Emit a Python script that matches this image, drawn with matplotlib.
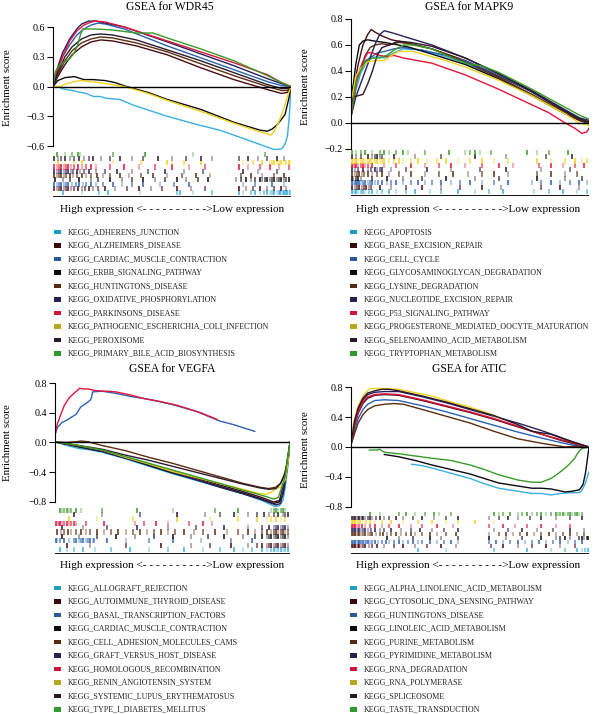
import matplotlib
matplotlib.use("Agg")
import matplotlib.pyplot as plt
from matplotlib.patches import Rectangle

plt.rcParams['font.family'] = ['Liberation Serif', 'DejaVu Serif']

W, H = 598, 714

# ---------------- data ----------------
wdr45_sets = ["KEGG_ADHERENS_JUNCTION", "KEGG_ALZHEIMERS_DISEASE", "KEGG_CARDIAC_MUSCLE_CONTRACTION",
              "KEGG_ERBB_SIGNALING_PATHWAY", "KEGG_HUNTINGTONS_DISEASE", "KEGG_OXIDATIVE_PHOSPHORYLATION",
              "KEGG_PARKINSONS_DISEASE", "KEGG_PATHOGENIC_ESCHERICHIA_COLI_INFECTION", "KEGG_PEROXISOME",
              "KEGG_PRIMARY_BILE_ACID_BIOSYNTHESIS"]
wdr45_x = [
    [3.5, 8, 14, 17, 19.5, 23, 28, 34, 48, 60, 70, 76, 83, 90, 93, 96, 97.5, 98.5, 99.3, 100],
    [0, 2, 5, 8, 12, 16, 20, 25, 35, 48, 62, 76, 90, 96, 98.5, 100],
    [0, 1.5, 4, 7, 10, 13, 16, 19, 22, 30, 48, 62, 76, 90, 96, 100],
    [0, 2, 5, 9, 13, 17, 22, 26, 31, 40, 48, 62, 76, 87, 90, 92, 94, 96, 97.5, 99, 100],
    [0, 2, 5, 8, 12, 16, 20, 25, 35, 48, 62, 76, 90, 96, 98.5, 100],
    [0, 1.5, 4, 7, 10, 12, 15, 18, 22, 30, 48, 62, 76, 90, 96, 100],
    [0, 1.5, 4, 7, 10, 13, 16, 18, 22, 30, 48, 62, 76, 90, 96, 100],
    [0, 3, 6, 9, 12, 16, 22, 30, 40, 48, 62, 76, 86, 89, 91.5, 93, 95, 97, 98.5, 100],
    [0, 2, 5, 8, 12, 16, 20, 25, 35, 48, 62, 76, 90, 96, 98.5, 100],
    [0, 1, 2.5, 5, 7, 9, 10.5, 11.5, 12.5, 18, 25, 35, 42, 48, 62, 76, 90, 96, 100],
]
wdr45_y = [
    [-0.02, -0.04, -0.07, -0.1, -0.1, -0.12, -0.13, -0.19, -0.3, -0.38, -0.44, -0.49, -0.55, -0.61, -0.635, -0.63, -0.58, -0.5, -0.3, 0.0],
    [0, 0.1, 0.22, 0.32, 0.4, 0.45, 0.47, 0.46, 0.41, 0.32, 0.19, 0.07, -0.03, -0.07, -0.06, 0],
    [0, 0.15, 0.3, 0.42, 0.52, 0.58, 0.62, 0.64, 0.63, 0.58, 0.41, 0.29, 0.17, 0.05, 0.01, 0],
    [0, 0.06, 0.09, 0.1, 0.07, 0.07, 0.06, 0.04, 0.0, -0.06, -0.13, -0.23, -0.36, -0.44, -0.45, -0.43, -0.39, -0.33, -0.28, -0.13, 0],
    [0, 0.12, 0.26, 0.36, 0.44, 0.48, 0.5, 0.49, 0.44, 0.35, 0.23, 0.11, 0.0, -0.04, -0.04, 0],
    [0, 0.16, 0.34, 0.48, 0.58, 0.63, 0.66, 0.66, 0.64, 0.6, 0.45, 0.33, 0.21, 0.08, 0.03, 0],
    [0, 0.14, 0.3, 0.46, 0.56, 0.62, 0.65, 0.66, 0.65, 0.6, 0.46, 0.35, 0.24, 0.12, 0.04, 0],
    [0, 0.0, 0.03, 0.05, 0.06, 0.05, 0.03, 0.0, -0.07, -0.14, -0.25, -0.37, -0.45, -0.47, -0.49, -0.45, -0.35, -0.22, -0.1, 0],
    [0, 0.14, 0.3, 0.4, 0.48, 0.52, 0.53, 0.52, 0.47, 0.37, 0.26, 0.14, 0.02, -0.02, -0.02, 0],
    [0, 0.15, 0.21, 0.25, 0.28, 0.34, 0.43, 0.52, 0.58, 0.58, 0.57, 0.54, 0.54, 0.49, 0.38, 0.26, 0.11, 0.04, 0],
]
wdr45_hits = [
    [4, 12, 19.5, 23, 36.5, 52, 53.5, 59, 67, 78, 80, 83, 85, 87, 88.5, 90, 91, 92, 93, 94, 95, 95.5, 96, 96.5, 97, 97.5, 98, 98.5, 99, 99.5],
    [0.5, 1.5, 2.5, 3.5, 4.5, 5.5, 6.5, 7.5, 9, 10.5, 12, 13.5, 15, 17, 19, 22, 26, 31, 36, 41, 46, 52, 58, 64, 78, 81, 84, 87, 90, 93, 96, 98],
    [0.5, 1.5, 2.5, 3.5, 4.5, 5.5, 6.5, 8, 9.5, 11, 12.5, 14, 16, 18, 21, 25, 29, 33, 38, 45, 51, 57, 80, 85, 92, 97],
    [1, 4, 7, 11, 16, 19, 24, 29, 33, 38, 43, 47, 52, 56, 61, 65, 77, 79, 81, 83, 85, 87, 88, 89, 90, 91, 92, 93, 94, 95, 96, 97, 98, 99],
    [0.5, 1.5, 2.5, 3.5, 4.5, 5.5, 7, 8.5, 10, 12, 14, 16, 18.5, 21, 24, 28, 32, 37, 42, 48, 54, 60, 66, 79, 83, 88, 93, 97],
    [0.5, 1.5, 2.5, 3.5, 4.5, 5.5, 6.5, 7.5, 8.5, 10, 11.5, 13, 15, 18, 22, 27, 33, 40, 47, 55, 63, 80, 86, 94],
    [0.5, 1.5, 2.5, 3.5, 4.5, 5.5, 6.5, 7.5, 9, 10.5, 12, 14, 16, 18, 24, 30, 36, 43, 50, 57, 64, 78, 82, 87, 91, 95, 99],
    [2, 5, 9, 12, 25, 37, 48, 50, 55, 62, 80, 84, 88, 91, 92, 93, 94, 95, 96, 97, 98, 99, 99.5],
    [0.5, 2, 3.5, 5, 7, 9, 11, 13, 15, 17, 20, 24, 28, 33, 38, 44, 50, 56, 62, 67, 78, 82, 86, 90, 94, 97],
    [1.5, 5, 8, 10.5, 11.5, 25, 38.5, 59, 89],
]

mapk9_sets = ["KEGG_APOPTOSIS", "KEGG_BASE_EXCISION_REPAIR", "KEGG_CELL_CYCLE",
              "KEGG_GLYCOSAMINOGLYCAN_DEGRADATION", "KEGG_LYSINE_DEGRADATION", "KEGG_NUCLEOTIDE_EXCISION_REPAIR",
              "KEGG_P53_SIGNALING_PATHWAY", "KEGG_PROGESTERONE_MEDIATED_OOCYTE_MATURATION",
              "KEGG_SELENOAMINO_ACID_METABOLISM", "KEGG_TRYPTOPHAN_METABOLISM"]
mapk9_x = [
    [0, 2, 4, 6, 8, 11, 14, 18, 22, 30, 40, 48, 62, 76, 90, 96, 100],
    [0, 1.5, 3, 5, 7, 8.5, 10, 13, 17, 25, 34, 48, 62, 76, 90, 96, 100],
    [0, 2, 4, 6, 8, 11, 14, 18, 22, 30, 40, 48, 62, 76, 90, 96, 100],
    [0, 1, 2, 3.5, 5, 7, 10, 14, 20, 25, 34, 48, 62, 76, 90, 96, 100],
    [0, 2, 4, 6, 8, 10, 13, 16, 20, 25, 34, 48, 62, 76, 90, 96, 100],
    [0, 2, 4, 6, 8, 10, 12, 14, 18, 25, 34, 48, 62, 76, 90, 96, 100],
    [0, 1.5, 3, 5, 7, 9, 12, 15, 18, 22, 34, 48, 62, 76, 83, 90, 94, 97, 99, 100],
    [0, 2, 4, 7, 10, 14, 17, 20, 26, 34, 40, 48, 62, 76, 90, 96, 100],
    [0, 1, 3, 5, 7, 9, 11, 13, 16, 20, 25, 34, 48, 62, 76, 90, 96, 100],
    [0, 2, 4, 6, 9, 12, 15, 18, 22, 26, 34, 44, 50, 55, 62, 76, 90, 96, 100],
]
mapk9_y = [
    [0.05, 0.25, 0.38, 0.45, 0.5, 0.51, 0.5, 0.54, 0.57, 0.56, 0.51, 0.46, 0.35, 0.22, 0.08, 0.02, -0.01],
    [0.1, 0.3, 0.45, 0.6, 0.68, 0.72, 0.7, 0.67, 0.64, 0.61, 0.57, 0.48, 0.36, 0.24, 0.09, 0.03, 0.0],
    [0.08, 0.3, 0.42, 0.48, 0.5, 0.54, 0.55, 0.57, 0.58, 0.56, 0.52, 0.48, 0.37, 0.24, 0.1, 0.03, 0.0],
    [0.2, 0.3, 0.45, 0.6, 0.63, 0.64, 0.63, 0.62, 0.6, 0.58, 0.53, 0.45, 0.34, 0.21, 0.07, 0.02, 0.0],
    [0.1, 0.3, 0.42, 0.52, 0.58, 0.6, 0.61, 0.6, 0.62, 0.61, 0.57, 0.47, 0.35, 0.22, 0.08, 0.02, 0.0],
    [0.05, 0.2, 0.3, 0.4, 0.5, 0.6, 0.68, 0.71, 0.69, 0.65, 0.6, 0.5, 0.38, 0.25, 0.1, 0.04, 0.02],
    [0.05, 0.22, 0.38, 0.47, 0.54, 0.54, 0.52, 0.51, 0.52, 0.5, 0.46, 0.37, 0.26, 0.14, 0.08, 0.0, -0.04, -0.08, -0.07, -0.04],
    [0.15, 0.36, 0.42, 0.47, 0.48, 0.48, 0.52, 0.55, 0.55, 0.51, 0.48, 0.43, 0.33, 0.21, 0.07, 0.0, -0.02],
    [0.05, 0.2, 0.21, 0.22, 0.3, 0.4, 0.52, 0.58, 0.6, 0.63, 0.62, 0.59, 0.5, 0.38, 0.24, 0.09, 0.03, 0.01],
    [0.06, 0.3, 0.4, 0.47, 0.5, 0.5, 0.52, 0.56, 0.6, 0.6, 0.57, 0.49, 0.45, 0.44, 0.39, 0.26, 0.12, 0.06, 0.03],
]
mapk9_hits = [
    [0.5, 1, 1.5, 2, 3, 4, 5, 6, 7.5, 9, 11, 13, 16, 19, 23, 27, 33, 38, 45, 52, 58, 64, 77, 83, 89, 95, 99],
    [0.5, 1.5, 2.5, 3.5, 4.5, 5.5, 6.5, 7.5, 8.5, 12, 17, 23, 30, 38, 46, 55, 63, 80, 88, 96],
    [0.5, 1, 1.5, 2, 2.5, 3, 3.5, 4, 5, 6, 7, 8, 9, 10, 11.5, 13, 15, 17, 19, 22, 25, 28, 31, 34, 38, 42, 46, 50, 55, 60, 66, 76, 80, 84, 88, 92, 96, 99],
    [0.5, 1, 2, 3, 4, 9, 15, 22, 30, 40, 52, 62, 78, 90, 97],
    [0.5, 1.5, 2.5, 3.5, 4.5, 5.5, 7, 9, 11, 13, 16, 20, 25, 31, 37, 43, 49, 55, 60, 66, 78, 84, 90, 95],
    [0.5, 1.5, 3, 5, 7, 8.5, 10, 11, 12, 13, 17, 23, 32, 42, 54, 65, 80, 92],
    [0.5, 1, 1.5, 2, 3, 4, 5, 6, 7, 9, 14, 19, 25, 31, 37, 42, 48, 55, 62, 68, 79, 84, 89, 94, 98],
    [0.5, 1, 1.5, 2, 3, 4, 5, 6, 7, 8, 9, 10, 11, 12, 13, 14, 16, 18, 20, 22, 25, 28, 32, 36, 40, 45, 50, 55, 60, 66, 78, 84, 90, 94, 97, 99],
    [0.5, 2, 4, 7, 9, 10, 11, 12, 13, 18, 27, 38, 52, 65, 82, 93],
    [0.5, 2, 4, 6, 9, 12, 14, 16, 19, 22, 24, 31, 41, 48, 50, 52, 54, 59, 74, 78, 83, 91],
]

vegfa_sets = ["KEGG_ALLOGRAFT_REJECTION", "KEGG_AUTOIMMUNE_THYROID_DISEASE", "KEGG_BASAL_TRANSCRIPTION_FACTORS",
              "KEGG_CARDIAC_MUSCLE_CONTRACTION", "KEGG_CELL_ADHESION_MOLECULES_CAMS", "KEGG_GRAFT_VERSUS_HOST_DISEASE",
              "KEGG_HOMOLOGOUS_RECOMBINATION", "KEGG_RENIN_ANGIOTENSIN_SYSTEM", "KEGG_SYSTEMIC_LUPUS_ERYTHEMATOSUS",
              "KEGG_TYPE_I_DIABETES_MELLITUS"]
vegfa_x = [
    [0, 5, 10, 15, 20, 30, 40, 50, 60, 70, 80, 88, 93.5, 95.5, 97, 98, 99, 100],
    [0, 10, 20, 30, 40, 50, 60, 70, 80, 88, 93, 95.5, 97, 98.5, 100],
    [0, 1, 3, 5, 7, 9, 11, 13, 15, 15.5, 16, 20, 26, 32, 40, 50, 60, 70, 76, 85],
    [0, 10, 20, 30, 40, 50, 60, 70, 80, 88, 93, 95.5, 97, 98.5, 100],
    [0, 5, 9, 11, 14, 20, 30, 40, 50, 60, 70, 80, 87, 91, 94, 96, 97.5, 99, 100],
    [0, 10, 20, 30, 40, 50, 60, 70, 80, 88, 94, 96, 97.5, 99, 100],
    [0, 1, 2.5, 4, 6, 8, 9.5, 10.5, 12, 14, 17, 20, 22, 26, 32, 38, 45, 52, 62, 69],
    [0, 10, 20, 30, 40, 50, 60, 70, 80, 86, 90, 92, 94, 96, 98, 99, 100],
    [0, 10, 20, 30, 40, 50, 60, 70, 80, 87, 91, 94, 96, 98, 100],
    [0, 10, 20, 30, 40, 50, 60, 70, 80, 88, 93, 95, 96.5, 98, 99, 100],
]
vegfa_y = [
    [0.01, -0.04, -0.08, -0.1, -0.13, -0.22, -0.32, -0.42, -0.51, -0.6, -0.69, -0.78, -0.86, -0.85, -0.78, -0.6, -0.35, 0],
    [0.01, -0.05, -0.11, -0.2, -0.3, -0.39, -0.48, -0.57, -0.66, -0.74, -0.8, -0.78, -0.6, -0.35, 0],
    [0.1, 0.2, 0.27, 0.3, 0.34, 0.38, 0.48, 0.52, 0.57, 0.6, 0.68, 0.69, 0.66, 0.62, 0.58, 0.51, 0.42, 0.29, 0.24, 0.15],
    [0.01, -0.06, -0.12, -0.21, -0.31, -0.41, -0.5, -0.59, -0.68, -0.76, -0.82, -0.8, -0.7, -0.4, 0],
    [0.01, 0.0, 0.01, 0.02, 0.01, -0.04, -0.11, -0.2, -0.28, -0.37, -0.46, -0.55, -0.6, -0.62, -0.6, -0.55, -0.45, -0.25, 0],
    [0.01, -0.05, -0.12, -0.21, -0.3, -0.4, -0.5, -0.6, -0.69, -0.77, -0.84, -0.82, -0.6, -0.3, 0],
    [0.1, 0.25, 0.38, 0.5, 0.6, 0.66, 0.7, 0.73, 0.72, 0.72, 0.7, 0.69, 0.69, 0.68, 0.64, 0.59, 0.55, 0.5, 0.4, 0.31],
    [0.01, -0.04, -0.1, -0.2, -0.29, -0.39, -0.47, -0.55, -0.63, -0.68, -0.7, -0.67, -0.62, -0.6, -0.5, -0.3, 0],
    [0.01, -0.04, -0.09, -0.17, -0.24, -0.32, -0.4, -0.48, -0.56, -0.61, -0.63, -0.62, -0.55, -0.4, 0],
    [0.01, -0.04, -0.1, -0.19, -0.28, -0.37, -0.46, -0.55, -0.64, -0.71, -0.76, -0.74, -0.6, -0.45, -0.2, 0],
]
vegfa_hits = [
    [2, 5, 8, 12, 17, 24, 32, 40, 48, 55, 63, 70, 76, 80, 84, 88, 90, 92, 93, 94, 95, 96, 97, 98, 99],
    [5, 15, 30, 45, 58, 66, 75, 82, 86, 88, 90, 91, 92, 93, 94, 95, 96, 97, 98, 99],
    [0.5, 1, 2, 4, 6, 8, 9, 10, 11, 12, 13, 14, 15, 16, 16.5, 22, 30, 40, 50, 62, 75, 84],
    [3, 10, 18, 26, 34, 42, 50, 58, 65, 72, 80, 85, 88, 90, 91, 92, 93, 94, 95, 96, 97, 98, 99],
    [1, 2.5, 4, 5.5, 7, 9, 11, 13, 15, 18, 21, 24, 27, 30, 33, 36, 39, 42, 45, 48, 51, 55, 59, 63, 68, 73, 78, 82, 85, 88, 90, 92, 93, 94, 95, 96, 97, 98, 99],
    [3, 12, 22, 35, 48, 60, 72, 82, 88, 91, 93, 94, 95, 96, 97, 98, 99],
    [0.5, 1, 1.5, 2, 3, 4, 5, 6, 7, 8, 9, 13, 21, 34, 38, 43, 48, 57, 63, 67],
    [6, 18, 33, 52, 66, 78, 86, 90, 92, 94, 96, 98],
    [8, 20, 36, 52, 64, 70, 76, 82, 86, 89, 91, 93, 95, 97, 98, 99],
    [2, 3, 4, 5, 6, 7, 9, 11, 20, 35, 50, 68, 78, 92, 93, 94, 95, 96, 97, 98],
]

atic_sets = ["KEGG_ALPHA_LINOLENIC_ACID_METABOLISM", "KEGG_CYTOSOLIC_DNA_SENSING_PATHWAY", "KEGG_HUNTINGTONS_DISEASE",
             "KEGG_LINOLEIC_ACID_METABOLISM", "KEGG_PURINE_METABOLISM", "KEGG_PYRIMIDINE_METABOLISM",
             "KEGG_RNA_DEGRADATION", "KEGG_RNA_POLYMERASE", "KEGG_SPLICEOSOME", "KEGG_TASTE_TRANSDUCTION"]
atic_x = [
    [25.5, 30, 34, 42, 50, 56, 62, 70, 76, 80, 84, 88, 92, 95, 96.5, 97.5, 98.5, 99.5, 100],
    [0, 1.5, 3, 5, 7, 10, 14, 20, 30, 40, 50, 60, 70, 80, 88, 94, 100],
    [0, 1.5, 3, 5, 7, 10, 14, 20, 30, 40, 50, 60, 70, 80, 88, 94, 100],
    [14, 20, 27, 34, 42, 50, 56, 62, 70, 76, 80, 84, 87, 90, 93, 96, 97.5, 98.5, 99.5, 100],
    [0, 1.5, 3, 5, 7, 10, 14, 18, 22, 30, 40, 50, 60, 70, 80, 86, 90, 95, 100],
    [0, 1.5, 3, 5, 7, 10, 14, 20, 30, 40, 50, 60, 70, 80, 88, 94, 100],
    [0, 1.5, 3, 5, 7, 10, 14, 20, 30, 40, 50, 60, 70, 80, 88, 94, 100],
    [0, 1, 2.5, 4, 6, 8, 10, 14, 20, 28, 34, 42, 48, 56, 63],
    [0, 1.5, 3, 5, 7, 10, 13, 16, 20, 30, 40, 50, 60, 70, 76, 84, 90, 96, 100],
    [7.7, 11, 12, 14, 20, 27, 34, 42, 50, 56, 62, 70, 76, 80, 84, 86, 88, 90, 92, 94, 95.5, 97, 100],
]
atic_y = [
    [-0.23, -0.25, -0.28, -0.35, -0.42, -0.49, -0.55, -0.59, -0.62, -0.62, -0.64, -0.62, -0.61, -0.61, -0.6, -0.55, -0.48, -0.38, -0.33],
    [0.04, 0.28, 0.45, 0.58, 0.65, 0.69, 0.7, 0.69, 0.62, 0.54, 0.46, 0.37, 0.27, 0.17, 0.09, 0.04, 0.0],
    [0.03, 0.22, 0.38, 0.5, 0.57, 0.62, 0.63, 0.62, 0.55, 0.47, 0.38, 0.29, 0.2, 0.12, 0.06, 0.02, 0.0],
    [-0.1, -0.13, -0.18, -0.24, -0.3, -0.36, -0.42, -0.48, -0.52, -0.55, -0.55, -0.56, -0.58, -0.6, -0.59, -0.57, -0.5, -0.35, -0.12, 0],
    [0.03, 0.18, 0.32, 0.43, 0.5, 0.55, 0.57, 0.58, 0.57, 0.5, 0.41, 0.32, 0.21, 0.11, 0.05, 0.02, 0.0, 0.01, 0.0],
    [0.05, 0.32, 0.5, 0.63, 0.7, 0.73, 0.74, 0.74, 0.67, 0.59, 0.5, 0.41, 0.32, 0.22, 0.13, 0.06, 0.0],
    [0.05, 0.3, 0.46, 0.6, 0.67, 0.7, 0.71, 0.7, 0.63, 0.55, 0.47, 0.38, 0.28, 0.17, 0.1, 0.05, 0.0],
    [0.05, 0.3, 0.5, 0.62, 0.72, 0.78, 0.78, 0.78, 0.77, 0.72, 0.68, 0.6, 0.55, 0.47, 0.38],
    [0.05, 0.35, 0.52, 0.65, 0.72, 0.75, 0.77, 0.77, 0.75, 0.68, 0.6, 0.51, 0.42, 0.3, 0.21, 0.17, 0.1, 0.04, 0.0],
    [-0.04, -0.04, -0.03, -0.07, -0.09, -0.12, -0.15, -0.18, -0.24, -0.3, -0.37, -0.44, -0.47, -0.47, -0.42, -0.38, -0.33, -0.28, -0.22, -0.15, -0.07, -0.02, 0],
]
atic_hits = [
    [28, 40, 60, 74, 84, 90, 95, 97, 98.5, 99.5],
    [0.3, 0.8, 1.3, 1.8, 2.3, 2.8, 3.3, 4, 5, 6, 7.5, 9, 11, 14, 18, 22, 27, 32, 38, 44, 59, 64, 70, 76, 82, 88, 94],
    [0.3, 0.8, 1.3, 1.8, 2.3, 2.8, 3.3, 3.8, 4.3, 5, 5.7, 6.4, 7.1, 8, 9, 10, 11.5, 13, 14.5, 16, 18, 20, 22, 24, 26, 28, 30, 33, 36, 39, 42, 45, 58, 61, 64, 67, 70, 73, 76, 79, 82, 85, 88, 91, 94, 97],
    [15, 20, 26, 33, 38, 45, 58, 65, 72, 80, 86, 88, 90, 92, 96, 97, 98, 99, 99.5],
    [0.3, 0.8, 1.3, 1.8, 2.3, 2.8, 3.5, 4.2, 5, 6, 7, 8, 9, 10.5, 12, 13.5, 15, 17, 19, 21, 23, 25, 27, 30, 33, 36, 40, 44, 58, 62, 65, 68, 71, 74, 77, 80, 83, 86, 89, 92, 95, 98],
    [0.3, 0.8, 1.3, 1.8, 2.3, 2.8, 3.3, 4, 5, 6, 7, 8.5, 10, 12, 14, 17, 21, 25, 29, 34, 39, 45, 60, 66, 72, 78, 85, 92, 98],
    [0.3, 0.8, 1.3, 1.8, 2.5, 3.5, 4.5, 6, 8, 10, 13, 16, 20, 25, 30, 36, 43, 58, 64, 69, 74, 80, 86, 92],
    [0.3, 0.8, 1.3, 1.8, 2.3, 3, 3.8, 5, 6.5, 8, 10, 13, 17, 22, 28, 34, 40, 45, 52, 60],
    [0.3, 0.8, 1.3, 1.8, 2.3, 2.8, 3.3, 3.8, 4.5, 5.2, 6, 7, 8, 9, 10.5, 12, 14, 16, 19, 22, 26, 30, 35, 40, 45, 58, 62, 66, 70, 75, 80, 86, 92, 97],
    [8, 12, 20, 23, 27, 31, 35, 37, 42, 60, 62, 64, 67, 70, 72, 74, 76, 78, 80, 82, 84, 86, 87, 88, 89, 90, 91, 92, 93, 94, 95, 96, 97],
]

wdr45_ticks = [-0.6, -0.3, 0.0, 0.3, 0.6]
mapk9_ticks = [-0.2, 0.0, 0.2, 0.4, 0.6, 0.8]
vegfa_ticks = [-0.8, -0.4, 0.0, 0.4, 0.8]
atic_ticks = [-0.8, -0.4, 0.0, 0.4, 0.8]

# ---------------- styles ----------------
line_colors = ['#3aaee0', '#4a0a12', '#2b62b2', '#0a0a12', '#5c2c0e',
               '#2a1f58', '#e0143c', '#f0d21a', '#2c1a2c', '#3a9a2a']
key_colors = ['#1f9fbf', '#3c0a0e', '#2a5a98', '#0a0a0a', '#5a2a10',
              '#2a2050', '#d0143c', '#b8a820', '#2a1a28', '#2e9a30']

fig = plt.figure(figsize=(W / 100, H / 100), dpi=100)

over = fig.add_axes([0, 0, 1, 1])
over.set_xlim(0, W)
over.set_ylim(H, 0)
over.axis('off')
over.patch.set_alpha(0)


def px_axes(left, top, right, bottom):
    return fig.add_axes([left / W, 1 - bottom / H, (right - left) / W, (bottom - top) / H])


def panel(xs, ys, hits, sets, ticks, title, box, ylim, rugbox, tx, ty, yl, keyx, keyy0, hx, hy):
    ax = px_axes(*box)
    ax.patch.set_alpha(0)
    for i in range(len(sets)):
        ax.plot(xs[i], ys[i], color=line_colors[i], lw=1.0)
    ax.axhline(0, color='black', lw=1.0)
    ax.set_xlim(0, 100)
    ax.set_ylim(*ylim)
    for s in ['top', 'right', 'bottom']:
        ax.spines[s].set_visible(False)
    ax.spines['left'].set_bounds(ticks[0], ticks[-1])
    ax.spines['left'].set_linewidth(0.8)
    ax.set_xticks([])
    ax.set_yticks(ticks)
    ax.set_yticklabels([f"{t:.1f}".replace('-', '\u2212') for t in ticks], fontsize=7.2)
    ax.tick_params(axis='y', length=4, width=0.8, pad=2)

    rug = px_axes(*rugbox)
    rug.patch.set_alpha(0)
    rug.set_xlim(0, 100)
    rug.set_ylim(-0.4, 10.1)
    for i in range(len(sets)):
        for j, h in enumerate(hits[i]):
            a = [1.0, 0.45, 0.75][j % 3]
            rug.vlines(h, i, i + 1.2, color=line_colors[i], lw=1.1, alpha=a)
    rug.axhline(-0.3, color='black', lw=1.3)
    rug.axis('off')

    over.text(tx, ty, title, ha='center', va='center', fontsize=8.4)
    over.text(yl[0], yl[1], "Enrichment score", rotation=90, ha='center', va='center', fontsize=7.8)
    over.text(hx, hy, "High expression <- - - - - - - - - ->Low expression",
              ha='center', va='center', fontsize=8.1)
    for i, name in enumerate(sets):
        yy = keyy0 + i * 13.5
        over.add_patch(Rectangle((keyx - 3.5, yy - 2.3), 7, 4.6, color=key_colors[i], lw=0))
        over.text(keyx + 11, yy, name, ha='left', va='center', fontsize=5.75, color='#222222')


panel(wdr45_x, wdr45_y, wdr45_hits, wdr45_sets, wdr45_ticks, "GSEA for WDR45",
      (53, 19.1, 291, 151), (-0.65, 0.68), (53, 152, 291, 197), 170, 7.5, (8, 88), 57, 232, 172, 209)
panel(mapk9_x, mapk9_y, mapk9_hits, mapk9_sets, mapk9_ticks, "GSEA for MAPK9",
      (351, 12.5, 589, 151.6), (-0.22, 0.85), (351, 150, 589, 196), 469, 7.5, (306, 87), 353, 232, 468, 209)
panel(vegfa_x, vegfa_y, vegfa_hits, vegfa_sets, vegfa_ticks, "GSEA for VEGFA",
      (55, 379.3, 290, 509.4), (-0.9, 0.85), (55, 508, 290, 554), 172, 368.5, (8, 443), 57, 588, 172, 566)
panel(atic_x, atic_y, atic_hits, atic_sets, atic_ticks, "GSEA for ATIC",
      (351, 383.3, 589, 510.7), (-0.85, 0.85), (351, 512, 589, 554), 469, 368.5, (306, 450), 353, 588, 468, 566)

plt.savefig("out.png", dpi=100)
plt.close("all")
